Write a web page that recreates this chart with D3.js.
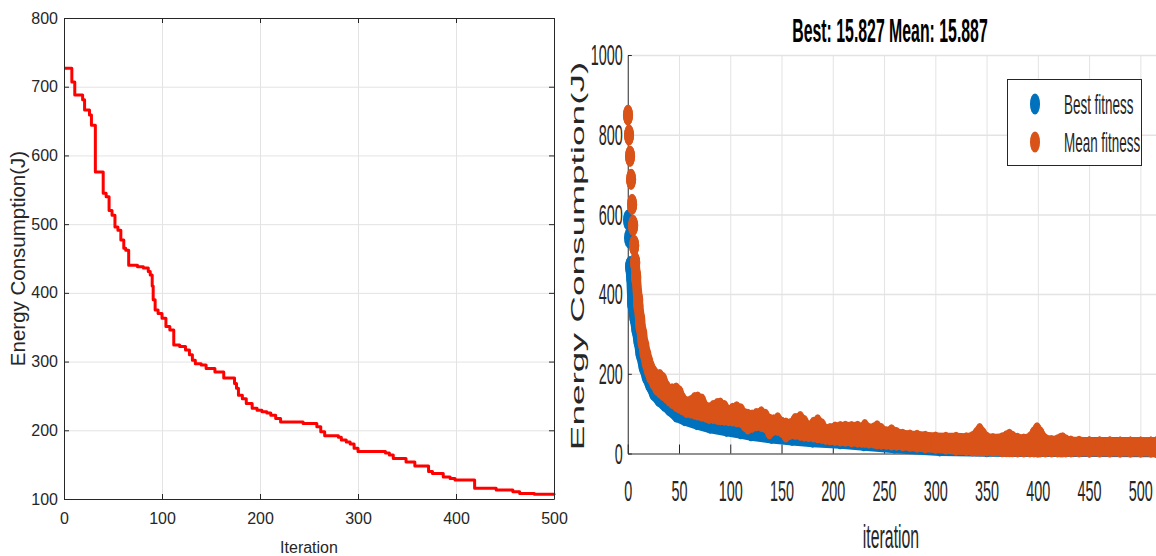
<!DOCTYPE html>
<html>
<head>
<meta charset="utf-8">
<script src="https://cdn.jsdelivr.net/npm/d3@7"></script>
<style>
  html, body { margin: 0; padding: 0; background: #fff; }
  svg { display: block; font-family: "Liberation Sans", Arial, sans-serif; }
</style>
</head>
<body>
<svg id="fig" width="1156" height="556"></svg>
<script>
// ---------- Left panel: best-so-far energy, value changes per iteration ----------
const stepIteration = [0, 8, 11, 19, 21, 26, 28, 32, 40, 43, 46, 49, 52, 55, 58, 61, 63, 66, 75, 81, 86, 88,
  90, 91, 93, 96, 100, 104, 108, 112, 118, 124, 128, 131, 134, 140, 145, 154, 163, 174, 176, 178, 182,
  186, 192, 197, 202, 207, 211, 216, 221, 244, 258, 262, 266, 280, 283, 288, 292, 296, 300, 328, 332,
  336, 349, 358, 372, 376, 387, 394, 399, 419, 441, 458, 465, 480, 500];
const stepEnergy = [727, 707, 688, 681, 666, 659, 644, 576, 545, 540, 520, 513, 496, 491, 477, 465, 462, 440, 438, 436, 431, 426,
  410, 390, 375, 370, 363, 351, 346, 324, 322, 317, 310, 302, 297, 295, 290, 285, 276, 268, 261, 251, 246,
  239, 232, 229, 227, 225, 222, 217, 212, 210, 205, 198, 192, 190, 186, 183, 180, 174, 169, 167, 164,
  159, 154, 148, 140, 137, 132, 130, 127.5, 115.5, 113, 110.5, 108, 107, 106];
const leftXTicks = [0, 100, 200, 300, 400, 500];
const leftYTicks = [100, 200, 300, 400, 500, 600, 700, 800];

// ---------- Right panel: best and mean fitness per iteration ----------
const meanIteration = [0, 1, 2, 3, 4, 5, 6, 7, 8, 10, 12, 14, 16, 18, 20, 22, 25, 28, 31, 34, 37, 40, 43, 47, 50, 53, 57, 61,
  65, 68, 72, 76, 79, 83, 87, 90, 94, 98, 102, 106, 110, 114, 117, 121, 125, 130, 134, 138, 142, 146, 150,
  154, 158, 163, 168, 172, 176, 181, 185, 189, 193, 197, 202, 207, 212, 218, 224, 228, 231, 235, 240, 243,
  247, 252, 257, 262, 268, 275, 282, 290, 300, 310, 320, 330, 336, 340, 343, 346, 350, 356, 365, 369, 372,
  375, 380, 386, 392, 396, 399, 402, 407, 413, 419, 422, 424, 427, 432, 440, 450, 460, 470, 480, 490, 500,
  510, 515];
const meanUpper = [849, 799, 746, 688, 625, 572, 522, 480, 445, 385, 335, 298, 268, 245, 226, 210, 195, 186, 186, 178, 160, 150, 150, 152, 145, 128, 115, 120,
  128, 129, 124, 104, 100, 108, 113, 114, 108, 95, 101, 105, 100, 80, 74, 78, 88, 92, 86, 62, 70, 77, 66,
  54, 60, 75, 80, 70, 55, 66, 72, 62, 48, 50, 54, 55, 56, 55, 56, 52, 60, 50, 52, 57,
  50, 42, 47, 40, 36, 34, 33, 31, 29, 28, 28, 27, 30, 40, 50, 40, 28, 25, 27, 32, 36,
  31, 26, 24, 28, 42, 52, 42, 24, 20, 22, 26, 27, 22, 19, 18, 17, 17, 17, 16, 16, 16,
  16, 16];
const meanLower = [849, 799, 746, 688, 625, 572, 522, 478, 440, 372, 322, 283, 255, 232, 214, 200, 185, 172, 165, 158, 152, 145, 138, 130, 126, 122, 118, 114,
  111, 109, 106, 104, 102, 100, 98, 97, 96, 95, 94, 92, 90, 88, 86, 84, 82, 80, 77, 74, 72, 70, 66,
  64, 62, 60, 58, 56, 55, 54, 52, 50, 48, 47, 45, 44, 43, 42, 41, 40, 40, 39, 38, 37,
  36, 35, 34, 33, 32, 30, 28, 27, 25, 23, 21, 20, 19, 19, 19, 19, 18, 18, 17, 17, 17,
  17, 16, 16, 16, 16, 16, 16, 16, 16, 16, 16, 16, 16, 16, 16, 16, 16, 16, 16, 16, 16,
  16, 16];
const bestIteration = [0, 1, 2, 3, 4, 6, 8, 10, 12, 15, 18, 21, 25, 30, 35, 40, 47, 55, 67, 80, 96, 110, 120, 140, 160, 180,
  207, 230, 260, 304, 350, 400, 450, 515];
const bestEnergy = [586, 541, 469, 444, 378, 345, 315, 286, 255, 222, 198, 180, 158, 143, 132, 120, 104, 95, 85, 76, 68, 62, 57, 50, 45, 41,
  37, 32, 26, 19, 17, 16, 16, 15.8];
const rightXTicks = [0, 50, 100, 150, 200, 250, 300, 350, 400, 450, 500];
const rightYTicks = [0, 200, 400, 600, 800, 1000];
const finalBest = 15.827, finalMean = 15.887;
const seriesNames = ["Best fitness", "Mean fitness"];

const INK = "#262626", GRID = "#e3e3e3", RED = "#ff0000";
const BLUE = "#0072bd", ORANGE = "#d95319";

const svg = d3.select("#fig");

// ======================= Left panel =======================
const xL = d3.scaleLinear().domain([0, 500]).range([64, 554]);
const yL = d3.scaleLinear().domain([100, 800]).range([499, 18]);
const gL = svg.append("g");

// grid
gL.append("g").attr("transform", "translate(0,499)")
  .call(d3.axisBottom(xL).tickValues(leftXTicks).tickSize(-(499 - 18)).tickFormat(""))
  .call(g => { g.select(".domain").remove(); g.selectAll("line").attr("stroke", GRID); });
gL.append("g").attr("transform", "translate(64,0)")
  .call(d3.axisLeft(yL).tickValues(leftYTicks).tickSize(-(554 - 64)).tickFormat(""))
  .call(g => { g.select(".domain").remove(); g.selectAll("line").attr("stroke", GRID); });

// red staircase
const redLine = d3.line().curve(d3.curveStepAfter)
  .x((d, i) => xL(stepIteration[i])).y(d => yL(d));
gL.append("path").datum(stepEnergy).attr("d", redLine)
  .attr("fill", "none").attr("stroke", RED).attr("stroke-width", 3).attr("stroke-linejoin", "round");

// axes with inward ticks and box
const styleAxis = g => {
  g.select(".domain").attr("stroke", INK);
  g.selectAll(".tick line").attr("stroke", INK);
  g.selectAll("text").attr("fill", INK).attr("font-size", 16).attr("font-family", "Liberation Sans, Arial, sans-serif");
};
gL.append("g").attr("transform", "translate(0,499)")
  .call(d3.axisBottom(xL).tickValues(leftXTicks).tickSize(-5).tickSizeOuter(0).tickPadding(14)).call(styleAxis);
gL.append("g").attr("transform", "translate(64,0)")
  .call(d3.axisLeft(yL).tickValues(leftYTicks).tickSize(-5).tickSizeOuter(0).tickPadding(6)).call(styleAxis);
gL.append("g").attr("transform", "translate(0,18)")
  .call(d3.axisTop(xL).tickValues(leftXTicks).tickSize(-5).tickSizeOuter(0).tickFormat("")).call(styleAxis);
gL.append("g").attr("transform", "translate(554,0)")
  .call(d3.axisRight(yL).tickValues(leftYTicks).tickSize(-5).tickSizeOuter(0).tickFormat("")).call(styleAxis);

gL.append("text").attr("x", 309).attr("y", 553).attr("text-anchor", "middle")
  .attr("font-size", 16).attr("fill", INK).text("Iteration");
gL.append("text").attr("transform", "translate(25,258.5) rotate(-90)").attr("text-anchor", "middle")
  .attr("font-size", 20.5).attr("fill", INK).text("Energy Consumption(J)");

// ======================= Right panel =======================
// The panel is drawn at full width then squeezed horizontally.
const SX = 0.48;
const R_LEFT = 628, R_RIGHT = 1156;
const W = (R_RIGHT - R_LEFT) / SX;
const xR = d3.scaleLinear().domain([0, 515]).range([0, W]);
const yR = d3.scaleLinear().domain([0, 1000]).range([453.5, 55]);
const gR = svg.append("g").attr("transform", `translate(${R_LEFT},0) scale(${SX},1)`);

gR.append("g").attr("transform", "translate(0,453.5)")
  .call(d3.axisBottom(xR).tickValues(rightXTicks.slice(1)).tickSize(-(453.5 - 55)).tickFormat(""))
  .call(g => { g.select(".domain").remove(); g.selectAll("line").attr("stroke", GRID).attr("vector-effect", "non-scaling-stroke"); });
gR.append("g")
  .call(d3.axisLeft(yR).tickValues(rightYTicks.slice(1)).tickSize(-W).tickFormat(""))
  .call(g => { g.select(".domain").remove(); g.selectAll("line").attr("stroke", GRID).attr("stroke-width", 1.5).attr("vector-effect", "non-scaling-stroke"); });

// axis lines (drawn beneath the markers)
const styleR = g => {
  g.select(".domain").attr("stroke", INK).attr("vector-effect", "non-scaling-stroke");
  g.selectAll(".tick line").attr("stroke", INK).attr("vector-effect", "non-scaling-stroke");
  g.selectAll("text").attr("fill", INK).attr("font-size", 30).attr("font-family", "Liberation Sans, Arial, sans-serif");
};
gR.append("g").attr("transform", "translate(0,453.5)")
  .call(d3.axisBottom(xR).tickValues(rightXTicks).tickFormat(d3.format("d"))
    .tickSize(-9).tickSizeOuter(0).tickPadding(26)).call(styleR);
gR.append("g")
  .call(d3.axisLeft(yR).tickValues(rightYTicks).tickFormat(d3.format("d"))
    .tickSize(-8).tickSizeOuter(0).tickPadding(11)).call(styleR);

// markers: radius in unsqueezed units
const MR = 10.5;

// best fitness (first few markers stand apart)
const bestLine = d3.line().defined((d, i) => bestIteration[i] >= 2)
  .x((d, i) => xR(bestIteration[i])).y(d => yR(d));
gR.append("path").datum(bestEnergy).attr("d", bestLine)
  .attr("fill", "none").attr("stroke", BLUE).attr("stroke-width", 2 * MR - 1)
  .attr("stroke-linejoin", "round").attr("stroke-linecap", "round");
gR.append("g").selectAll("circle").data(bestEnergy).join("circle")
  .attr("cx", (d, i) => xR(bestIteration[i])).attr("cy", d => yR(d)).attr("r", MR).attr("fill", BLUE);

// mean fitness band (first few markers stand apart)
const meanArea = d3.area().defined((d, i) => meanIteration[i] >= 7)
  .x((d, i) => xR(meanIteration[i]))
  .y0((d, i) => yR(meanLower[i])).y1(d => yR(d));
gR.append("path").datum(meanUpper).attr("d", meanArea)
  .attr("fill", ORANGE).attr("stroke", ORANGE).attr("stroke-width", 2 * MR - 2)
  .attr("stroke-linejoin", "round");
gR.append("g").selectAll("circle").data(meanUpper.concat(meanLower)).join("circle")
  .attr("cx", (d, i) => xR(meanIteration[i % meanIteration.length])).attr("cy", d => yR(d))
  .attr("r", MR).attr("fill", ORANGE);

// squeezed text helper
const sq = (x, y) => `translate(${x},${y}) scale(${SX},1)`;

svg.append("text").attr("transform", sq(890, 42)).attr("text-anchor", "middle")
  .attr("font-size", 33).attr("font-weight", "bold").attr("fill", "#000")
  .text(`Best: ${finalBest.toFixed(3)} Mean: ${finalMean.toFixed(3)}`);
svg.append("text").attr("transform", sq(891, 548)).attr("text-anchor", "middle")
  .attr("font-size", 33).attr("fill", INK).text("iteration");
svg.append("text").attr("transform", `translate(578,256) scale(${SX},1) rotate(-90)`)
  .attr("text-anchor", "middle").attr("dy", "0.35em")
  .attr("font-size", 37).attr("fill", INK).text("Energy Consumption(J)");

// legend
const leg = svg.append("g");
leg.append("rect").attr("x", 1007.5).attr("y", 79.5).attr("width", 134).attr("height", 86)
  .attr("fill", "#fff").attr("stroke", INK).attr("stroke-width", 1);
const legColors = [BLUE, ORANGE];
const legY = [104, 142];
seriesNames.forEach((name, i) => {
  leg.append("ellipse").attr("cx", 1035).attr("cy", legY[i]).attr("rx", MR * SX).attr("ry", MR)
    .attr("fill", legColors[i]);
  leg.append("text").attr("transform", sq(1064, legY[i] + 10)).attr("font-size", 28)
    .attr("fill", INK).text(name);
});
</script>
</body>
</html>
